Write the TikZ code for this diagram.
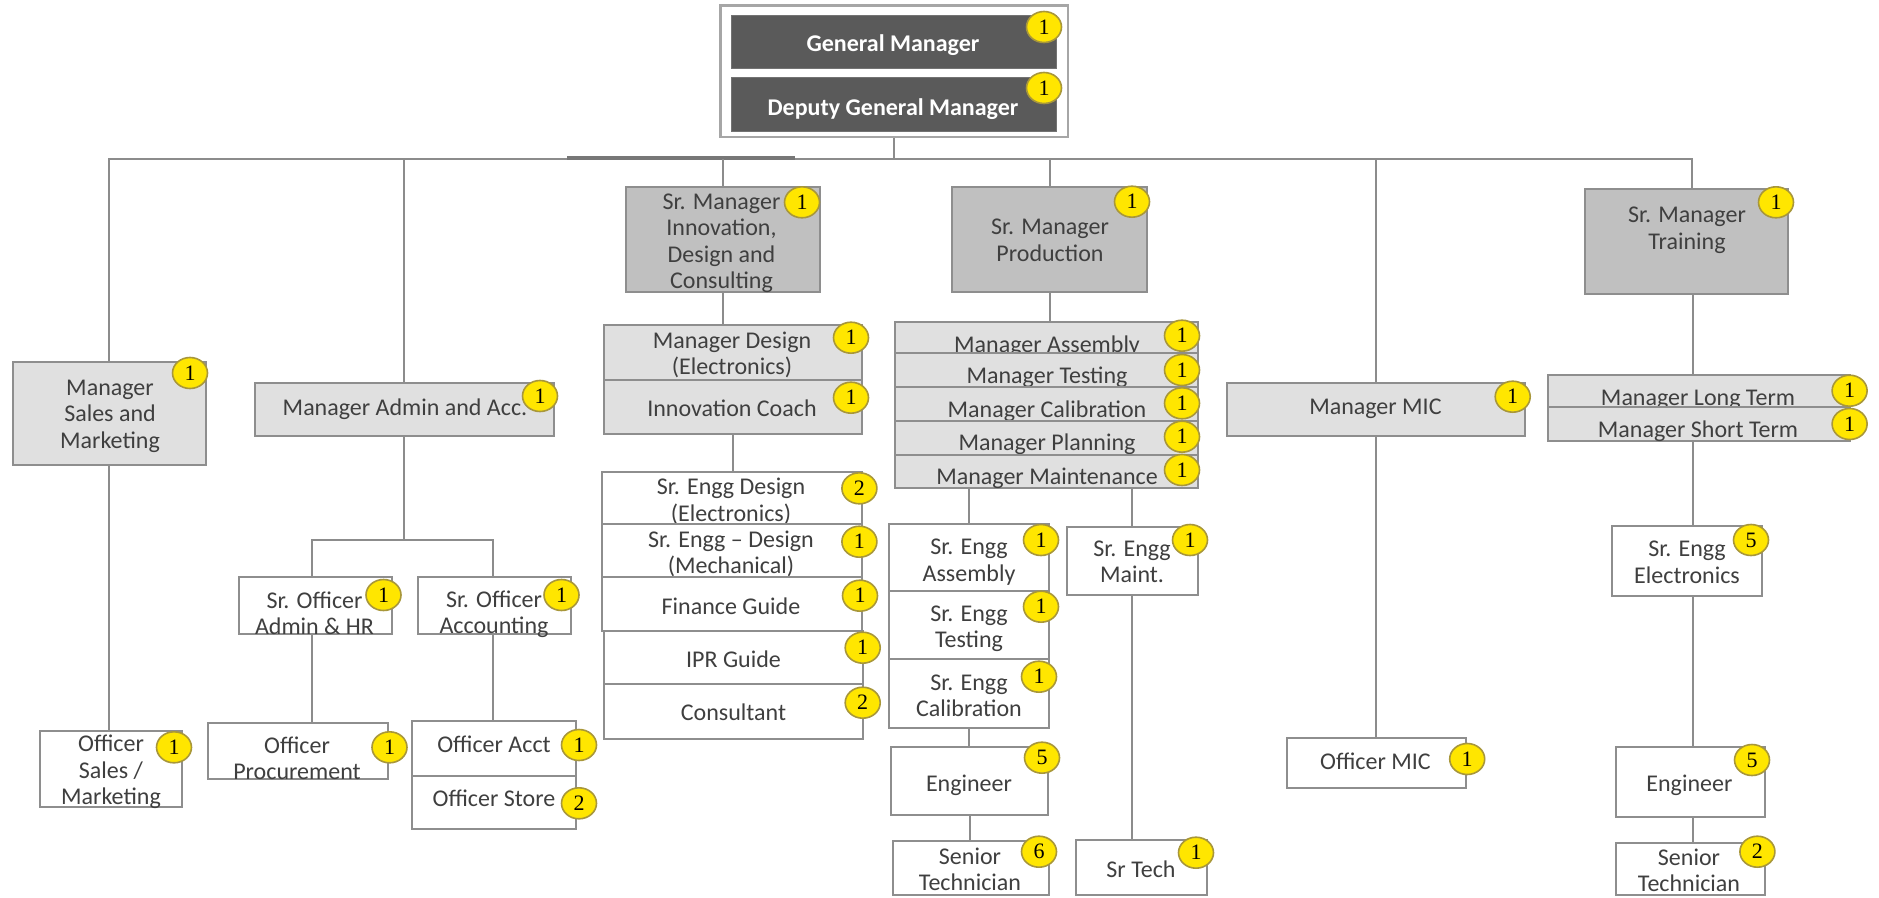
\documentclass[tikz,border=0pt]{standalone}
\usepackage{fontspec}
\setmainfont{Carlito}
\newfontfamily\numfont{Liberation Serif}
\usetikzlibrary{shapes.geometric,backgrounds}
\definecolor{linegray}{HTML}{8C8C8C}
\definecolor{boxline}{HTML}{8E8E8E}
\definecolor{framegray}{HTML}{A6A6A6}
\definecolor{lightfill}{HTML}{E0E0E0}
\definecolor{midfill}{HTML}{C0C0C0}
\definecolor{darkfill}{HTML}{5A5A5A}
\definecolor{badgefill}{HTML}{FFE600}
\definecolor{badgeline}{HTML}{A8973A}
\definecolor{txtcol}{HTML}{3F3F3F}
\newcommand\st{\rule[-8pt]{0pt}{26pt}}
\newcommand\nl{\\\st}
\newcommand\Bx[6]{\node[#2, minimum width={(#5)-(#3)}, minimum height={(#6)-(#4)}] (#1) at ({((#3)+(#5))/2},{((#4)+(#6))/2}) {};}
\tikzset{
  conn/.style={draw=linegray, line width=2pt},
  bx/.style={rectangle, draw=boxline, line width=2pt, inner sep=0pt, outer sep=0pt},
  wbox/.style={bx, fill=white},
  lbox/.style={bx, fill=lightfill},
  mbox/.style={bx, fill=midfill},
  dbox/.style={bx, fill=darkfill, draw=darkfill!85!white, line width=1pt},
  framebox/.style={bx, fill=white, draw=framegray, line width=2.5pt},
  txt/.style={align=center, inner sep=0pt, yshift=-4pt, text=txtcol, font=\fontsize{24}{26.5}\selectfont, execute at begin node=\st},
  gtxt/.style={txt, text=white, font=\bfseries\fontsize{24}{26.5}\selectfont},
  badge/.style={ellipse, fill=badgefill, draw=badgeline, line width=1.6pt, minimum width=35pt, minimum height=31pt, inner sep=0pt, font=\numfont\fontsize{22}{22}\selectfont, text=black},
}
\begin{document}
\begin{tikzpicture}[x=1pt,y=-1pt]
\useasboundingbox (0,0) rectangle (1879,897);

% ---------- top ----------
\Bx{gmframe}{framebox}{720.7}{5.3}{1068}{137}
\Bx{gm}{dbox}{731.7}{15}{1056}{68}
\node[gtxt] (gm-t) at (893,42) {General Manager};
\Bx{dgm}{dbox}{731.7}{77}{1056}{131}
\node[gtxt] (dgm-t) at (893,106) {Deputy General Manager};

% ---------- column 1: sales ----------
\Bx{sales}{lbox}{12.7}{361.7}{206}{465}
\node[txt] (sales-t) at (110,414) {Manager\nl Sales and\nl Marketing};
\Bx{osales}{wbox}{40.3}{730.7}{182}{806.7}
\node[txt] (osales-t) at (111,770) {Officer\nl Sales /\nl Marketing};

% ---------- column 2: admin ----------
\Bx{admin}{lbox}{255}{382.7}{553.6}{436}
\node[txt] (admin-t) at (405,406) {Manager Admin and Acc.};
\Bx{sohr}{wbox}{238.8}{577}{391.5}{634.3}
\node[txt] (sohr-t) at (314.5,613) {Sr. Officer\nl Admin \& HR};
\Bx{soacc}{wbox}{417.5}{577}{571}{633.7}
\node[txt] (soacc-t) at (494,612) {Sr. Officer\nl Accounting};
\Bx{oproc}{wbox}{208.4}{723.3}{388.3}{779.3}
\node[txt] (oproc-t) at (297,758.3) {Officer\nl Procurement};
\Bx{oacct}{wbox}{412}{720.7}{576}{775.7}
\node[txt] (oacct-t) at (494,743.3) {Officer Acct};
\Bx{ostore}{wbox}{412}{775.7}{576}{829.3}
\node[txt] (ostore-t) at (494,797.3) {Officer Store};

% ---------- column 3: innovation ----------
\Bx{innov}{mbox}{626}{187.3}{819.8}{292}
\node[txt] (innov-t) at (721.5,241) {Sr. Manager\nl Innovation,\nl Design and\nl Consulting};
\Bx{mdesign}{lbox}{603.5}{325}{862}{380}
\node[txt] (mdesign-t) at (732,353) {Manager Design\nl (Electronics)};
\Bx{coach}{lbox}{603.5}{380}{862}{434.3}
\node[txt] (coach-t) at (732,407.7) {Innovation Coach};
\Bx{sedes}{wbox}{602}{471.7}{862}{524}
\node[txt] (sedes-t) at (731,499.7) {Sr. Engg Design\nl (Electronics)};
\Bx{semech}{wbox}{602}{524}{862}{577.3}
\node[txt] (semech-t) at (731,552) {Sr. Engg -- Design\nl (Mechanical)};
\Bx{finance}{wbox}{602}{577.3}{862}{630.7}
\node[txt] (finance-t) at (731,605) {Finance Guide};
\Bx{ipr}{wbox}{604.3}{630.7}{862.7}{684.3}
\node[txt] (ipr-t) at (733.5,658.3) {IPR Guide};
\Bx{consult}{wbox}{604.3}{684.3}{862.7}{739.3}
\node[txt] (consult-t) at (733.5,711.7) {Consultant};

% ---------- column 4: production ----------
\Bx{prod}{mbox}{952.4}{187.3}{1147}{292}
\node[txt] (prod-t) at (1050,240.3) {Sr. Manager\nl Production};
\Bx{mass}{lbox}{895.3}{321.7}{1198}{352.7}
\node[txt] (mass-t) at (1047,343.3) {Manager Assembly};
\Bx{mtest}{lbox}{895.3}{352.7}{1198}{386.7}
\node[txt] (mtest-t) at (1047,374) {Manager Testing};
\Bx{mcal}{lbox}{895.3}{386.7}{1198}{420.7}
\node[txt] (mcal-t) at (1047,408) {Manager Calibration};
\Bx{mplan}{lbox}{895.3}{420.7}{1198}{455}
\node[txt] (mplan-t) at (1047,441.7) {Manager Planning};
\Bx{mmaint}{lbox}{895.3}{455}{1198}{487.7}
\node[txt] (mmaint-t) at (1047,475) {Manager Maintenance};
\Bx{sea}{wbox}{888.8}{524}{1049.2}{590.7}
\node[txt] (sea-t) at (969,560) {Sr. Engg\nl Assembly};
\Bx{setest}{wbox}{888.8}{590.7}{1049.2}{659.3}
\node[txt] (setest-t) at (969,626.7) {Sr. Engg\nl Testing};
\Bx{secal}{wbox}{888.8}{659.3}{1049.2}{727.7}
\node[txt] (secal-t) at (969,695.8) {Sr. Engg\nl Calibration};
\Bx{eng1}{wbox}{891.2}{747.3}{1048}{815}
\node[txt] (eng1-t) at (969,782.7) {Engineer};
\Bx{stech1}{wbox}{893.3}{840.7}{1049}{895}
\node[txt] (stech1-t) at (970,869) {Senior\nl Technician};
\Bx{semaint}{wbox}{1066.7}{526.7}{1198}{595}
\node[txt] (semaint-t) at (1132,561.7) {Sr. Engg\nl Maint.};
\Bx{srtech}{wbox}{1075.7}{840}{1207}{895}
\node[txt] (srtech-t) at (1141,868.3) {Sr Tech};

% ---------- column 5: MIC ----------
\Bx{mic}{lbox}{1226.9}{382.7}{1524.8}{435.7}
\node[txt] (mic-t) at (1375.4,405) {Manager MIC};
\Bx{omic}{wbox}{1286.6}{738.3}{1466.3}{788.3}
\node[txt] (omic-t) at (1375.4,760) {Officer MIC};

% ---------- column 6: training ----------
\Bx{train}{mbox}{1585.4}{189.3}{1788}{294}
\node[txt] (train-t) at (1687,228.3) {Sr. Manager\nl Training};
\Bx{mlong}{lbox}{1547.8}{375}{1849.6}{406.7}
\node[txt] (mlong-t) at (1698,396.7) {Manager Long Term};
\Bx{mshort}{lbox}{1547.8}{406.7}{1849.6}{440.7}
\node[txt] (mshort-t) at (1698,428.3) {Manager Short Term};
\Bx{seelec}{wbox}{1612.3}{526}{1761.7}{596}
\node[txt] (seelec-t) at (1687,562) {Sr. Engg\nl Electronics};
\Bx{eng2}{wbox}{1615.8}{747.3}{1765.2}{816.7}
\node[txt] (eng2-t) at (1689.4,782.7) {Engineer};
\Bx{stech2}{wbox}{1615.8}{843.3}{1765.2}{895}
\node[txt] (stech2-t) at (1689,870) {Senior\nl Technician};

% ---------- connectors (behind boxes) ----------
\begin{pgfonlayer}{background}
\fill[white] (0,0) rectangle (1879,897);
\coordinate (trainTop) at (1692,159);
\coordinate (abusL) at (312.4,540);
\coordinate (abusR) at (493,540);
\coordinate (tx) at (1693,0);
\draw[conn] (sales.north) |- (trainTop) -- (trainTop |- train.north);
\draw[conn] (gmframe.south) -- (gmframe.south |- trainTop);
\draw[draw=linegray!85!black, line width=4.5pt] (567,158) -- (795,158);
\draw[conn] (admin.north) -- (admin.north |- trainTop);
\draw[conn] (innov.north) -- (innov.north |- trainTop);
\draw[conn] (prod.north) -- (prod.north |- trainTop);
\draw[conn] (mic.north) -- (mic.north |- trainTop);
% column 1
\draw[conn] (sales.south) -- (sales.south |- osales.north);
% column 2
\draw[conn] (admin.south) -- (admin.south |- abusL);
\draw[conn] (abusL |- sohr.north) -- (abusL) -- (abusR) -- (abusR |- soacc.north);
\draw[conn] (abusL |- sohr.south) -- (abusL |- oproc.north);
\draw[conn] (abusR |- soacc.south) -- (abusR |- oacct.north);
% column 3
\draw[conn] (innov.south) -- (innov.south |- mdesign.north);
\draw[conn] (coach.south) -- (coach.south |- sedes.north);
% column 4
\draw[conn] (prod.south) -- (prod.south |- mass.north);
\draw[conn] (sea.north) -- (sea.north |- mmaint.south);
\draw[conn] (semaint.north) -- (semaint.north |- mmaint.south);
\draw[conn] (secal.south) -- (secal.south |- eng1.north);
\draw[conn] (eng1.south) -- (eng1.south |- stech1.north);
\draw[conn] (semaint.south) -- (semaint.south |- srtech.north);
% column 5
\draw[conn] (mic.south) -- (mic.south |- omic.north);
% column 6
\draw[conn] (train.south -| tx) -- (mlong.north -| tx);
\draw[conn] (mshort.south -| tx) -- (seelec.north -| tx);
\draw[conn] (seelec.south -| tx) -- (eng2.north -| tx);
\draw[conn] (eng2.south -| tx) -- (stech2.north -| tx);
\end{pgfonlayer}

% ---------- badges ----------
\node[badge] (gm-b) at (1044,27) {1};
\node[badge] (dgm-b) at (1044,88) {1};
\node[badge] (sales-b) at (190,373) {1};
\node[badge] (osales-b) at (174,747.3) {1};
\node[badge] (admin-b) at (540,396) {1};
\node[badge] (sohr-b) at (383.5,595) {1};
\node[badge] (soacc-b) at (561.5,595) {1};
\node[badge] (oproc-b) at (389.5,747.3) {1};
\node[badge] (oacct-b) at (579,745) {1};
\node[badge] (ostore-b) at (579,803.3) {2};
\node[badge] (innov-b) at (802,202.3) {1};
\node[badge] (mdesign-b) at (851,337.7) {1};
\node[badge] (coach-b) at (851,397.7) {1};
\node[badge] (sedes-b) at (859.4,488.3) {2};
\node[badge] (semech-b) at (859.4,541.7) {1};
\node[badge] (finance-b) at (860,595.7) {1};
\node[badge] (ipr-b) at (862.7,647.7) {1};
\node[badge] (consult-b) at (862.7,702.7) {2};
\node[badge] (prod-b) at (1132,201.7) {1};
\node[badge] (mass-b) at (1182,335.7) {1};
\node[badge] (mtest-b) at (1182,370) {1};
\node[badge] (mcal-b) at (1182,403.3) {1};
\node[badge] (mplan-b) at (1182,436.7) {1};
\node[badge] (mmaint-b) at (1182,470) {1};
\node[badge] (sea-b) at (1041,540) {1};
\node[badge] (setest-b) at (1041,606.7) {1};
\node[badge] (secal-b) at (1039,676.7) {1};
\node[badge] (eng1-b) at (1042,757.7) {5};
\node[badge] (stech1-b) at (1039,851.7) {6};
\node[badge] (semaint-b) at (1190,540) {1};
\node[badge] (srtech-b) at (1196,852.7) {1};
\node[badge] (mic-b) at (1512.7,396.7) {1};
\node[badge] (omic-b) at (1467.2,759) {1};
\node[badge] (train-b) at (1776,202.3) {1};
\node[badge] (mlong-b) at (1849.6,390.7) {1};
\node[badge] (mshort-b) at (1849.6,424) {1};
\node[badge] (seelec-b) at (1751,540) {5};
\node[badge] (eng2-b) at (1752,760) {5};
\node[badge] (stech2-b) at (1757.4,851.7) {2};
\end{tikzpicture}
\end{document}
